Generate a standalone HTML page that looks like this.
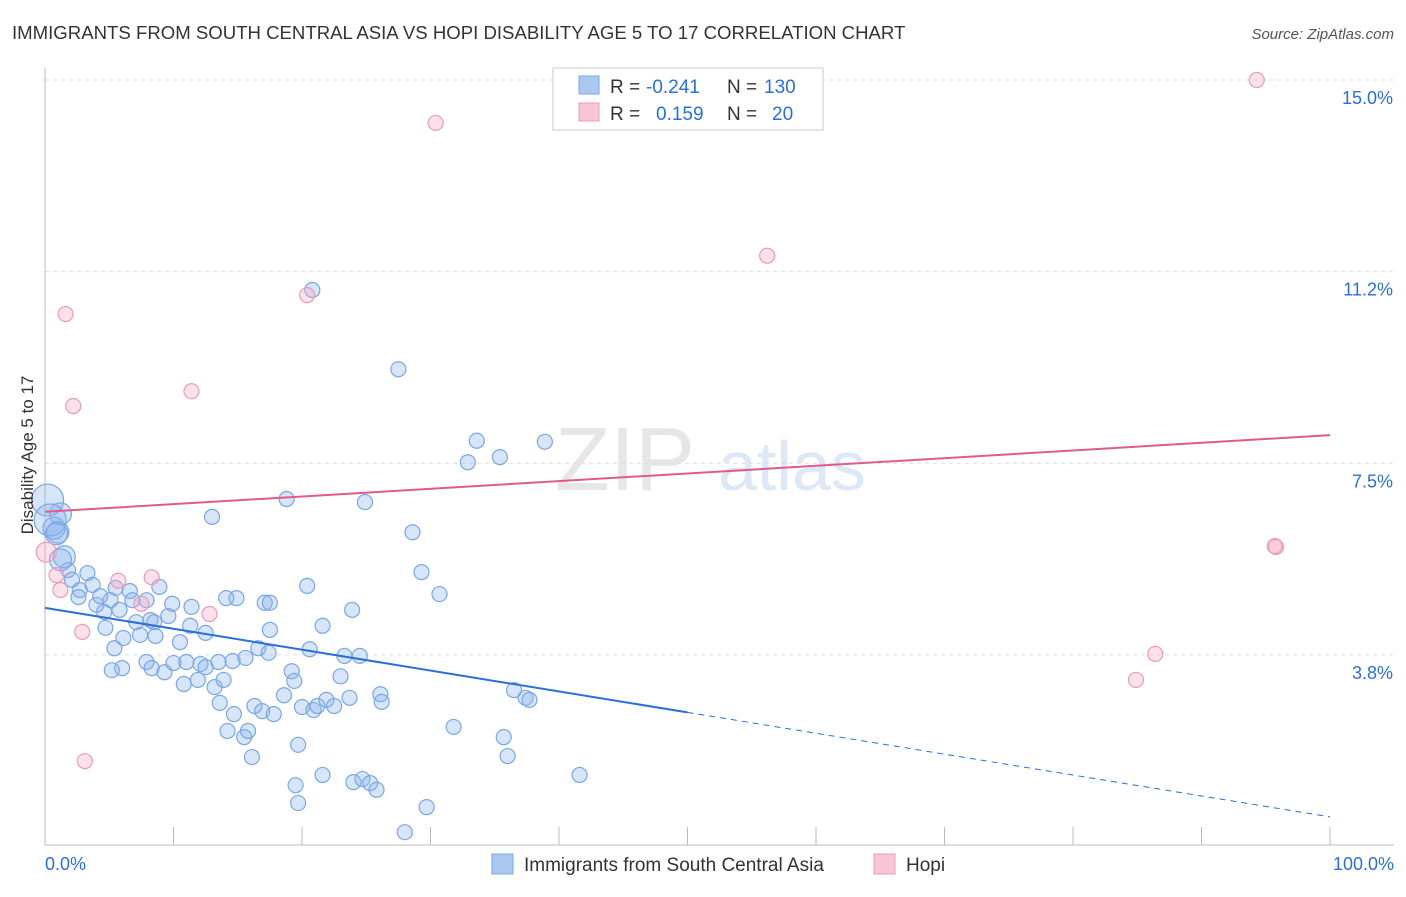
<!DOCTYPE html>
<html><head><meta charset="utf-8">
<style>
body{margin:0;background:#fff;font-family:"Liberation Sans",sans-serif;}
svg text{font-family:"Liberation Sans",sans-serif;}
</style></head>
<body>
<svg id="chart" width="1406" height="892" xmlns="http://www.w3.org/2000/svg">
<text x="12" y="39" font-size="18.6" fill="#333">IMMIGRANTS FROM SOUTH CENTRAL ASIA VS HOPI DISABILITY AGE 5 TO 17 CORRELATION CHART</text>
<text x="1394" y="39" font-size="15" fill="#555" text-anchor="end" font-style="italic">Source: ZipAtlas.com</text>
<text x="555" y="490" font-size="90" fill="#e6e6e6" font-family="Liberation Serif">ZIP</text>
<text x="718" y="490" font-size="70" fill="#dce8f5">atlas</text>
<g id="grid"></g>
<g id="axes"></g>
<g id="marks"></g>
<text transform="translate(33,455) rotate(-90)" font-size="17" fill="#333" text-anchor="middle">Disability Age 5 to 17</text>
<g>
<rect x="553" y="68" width="270" height="62" fill="#fff" stroke="#ccc"/>
<rect x="579" y="76" width="20" height="18" fill="#aac8f0" stroke="#7aa6e6"/>
<text x="610" y="93" font-size="19" fill="#333">R =</text>
<text x="646" y="93" font-size="19" fill="#2a6fd6">-0.241</text>
<text x="727" y="93" font-size="19" fill="#333">N =</text>
<text x="764" y="93" font-size="19" fill="#2a6fd6">130</text>
<rect x="579" y="103" width="20" height="18" fill="#f7c5d5" stroke="#e99bb7"/>
<text x="610" y="120" font-size="19" fill="#333">R =</text>
<text x="656" y="120" font-size="19" fill="#2a6fd6">0.159</text>
<text x="727" y="120" font-size="19" fill="#333">N =</text>
<text x="772" y="120" font-size="19" fill="#2a6fd6">20</text>
</g>
<g>
<rect x="492" y="854" width="21" height="20" fill="#aac8f0" stroke="#7aa6e6"/>
<text x="524" y="871" font-size="19" fill="#333">Immigrants from South Central Asia</text>
<rect x="874" y="854" width="21" height="20" fill="#f7c5d5" stroke="#e99bb7"/>
<text x="906" y="871" font-size="19" fill="#333">Hopi</text>
</g>
</svg>
<script>
const blueX=[20.8,27.5,33.6,38.9,32.9,35.4,18.8,24.9,13.0,28.6,29.3,20.4,30.7,23.9,14.9,14.1,17.1,17.5,9.9,11.4,8.9,6.6,5.5,3.3,1.8,2.1,2.7,3.7,5.1,4.0,4.6,5.8,7.1,8.2,8.5,9.6,11.3,12.5,10.5,8.6,7.4,6.1,4.7,5.4,6.0,5.2,7.9,8.3,9.3,10.0,11.0,12.1,12.5,13.5,14.6,15.6,16.6,17.4,17.5,20.6,21.6,23.3,24.5,19.2,19.4,23.0,10.8,11.9,13.2,13.9,13.6,14.7,16.3,16.9,17.8,18.6,20.0,20.9,21.2,21.9,22.5,23.7,26.1,26.2,31.8,36.5,37.4,37.7,35.7,36.0,41.6,19.7,14.2,15.5,15.8,16.1,21.6,19.5,19.7,24.0,24.7,25.3,25.8,29.7,28.0,1.2,1.0,0.7,1.5,1.2,0.2,0.4,2.6,4.3,6.8,7.9,0.9];
const blueY=[10.89,9.34,7.94,7.92,7.52,7.62,6.80,6.74,6.45,6.15,5.37,5.10,4.94,4.63,4.86,4.86,4.77,4.77,4.75,4.69,5.08,5.00,5.06,5.35,5.41,5.22,5.02,5.12,4.82,4.73,4.59,4.63,4.39,4.43,4.39,4.51,4.32,4.18,4.00,4.12,4.14,4.08,4.28,3.88,3.49,3.45,3.61,3.49,3.41,3.59,3.61,3.57,3.51,3.61,3.63,3.69,3.88,3.79,4.24,3.86,4.32,3.73,3.73,3.43,3.24,3.33,3.18,3.26,3.12,3.26,2.81,2.59,2.75,2.65,2.59,2.96,2.73,2.67,2.75,2.87,2.75,2.91,2.98,2.83,2.34,3.06,2.91,2.87,2.14,1.77,1.40,1.99,2.26,2.14,2.26,1.75,1.40,1.20,0.85,1.26,1.32,1.24,1.11,0.77,0.28,6.51,6.15,6.23,5.67,5.61,6.78,6.39,4.88,4.90,4.82,4.82,6.12];
const pinkX=[94.3,30.4,56.2,20.4,1.6,11.4,2.2,95.8,95.7,86.4,84.9,3.1,2.9,12.8,7.5,5.7,8.3,0.9,1.2,0.1];
const pinkY=[15.0,14.16,11.56,10.79,10.42,8.91,8.62,5.86,5.88,3.77,3.26,1.67,4.20,4.55,4.75,5.20,5.27,5.31,5.02,5.76];
const blueTrend=[4.67,0.58]; // values at x=0 and x=100
const pinkTrend=[6.55,8.05];
const yTicks=[15.0,11.25,7.5,3.75];
const yTickLabels=["15.0%","11.2%","7.5%","3.8%"];
const xTicks=[0,10,20,30,40,50,60,70,80,90,100];

const NS="http://www.w3.org/2000/svg";
const X=v=>45+v*12.85;
const Y=v=>80+(15-v)*51.1;
function mk(tag,attrs,parent){const e=document.createElementNS(NS,tag);for(const k in attrs)e.setAttribute(k,attrs[k]);parent.appendChild(e);return e;}
const grid=document.getElementById('grid'),axes=document.getElementById('axes'),marks=document.getElementById('marks');
yTicks.forEach((t,i)=>{
  const l=mk('line',{x1:45,x2:1394,y1:Y(t),y2:Y(t),stroke:'#ddd','stroke-dasharray':'4,4'},grid);
  
  
  const tx=mk('text',{x:1393,y:Y(t)+24,'font-size':18,fill:'#2a6fd6','text-anchor':'end'},axes);
  tx.textContent=yTickLabels[i];
  
  
});
const ax=mk('line',{x1:45,x2:1394,y1:845,y2:845,stroke:'#bbb'},axes);


const ay=mk('line',{x1:45,x2:45,y1:68,y2:845,stroke:'#bbb'},axes);


xTicks.forEach(t=>{
  const l=mk('line',{x1:X(t),x2:X(t),y1:827,y2:845,stroke:'#bbb'},axes);
  
  
});
[['0.0%',45,'start'],['100.0%',1394,'end']].forEach(a=>{
  const tx=mk('text',{x:a[1],y:870,'font-size':18,fill:'#2a6fd6','text-anchor':a[2]},axes);
  tx.textContent=a[0];
  
  
});
blueX.forEach((x,i)=>{
  let r=7.5; if(x<1.6&&blueY[i]>5.5) r=11; if(x<0.5) r=16;
  const c=mk('circle',{cx:X(x),cy:Y(blueY[i]),r:r,fill:'rgba(140,180,235,0.35)',stroke:'#7aa6e6','stroke-width':1.2},marks);
  
  
});
pinkX.forEach((x,i)=>{
  let r=7.5; if(x<0.5) r=10;
  const c=mk('circle',{cx:X(x),cy:Y(pinkY[i]),r:r,fill:'rgba(245,170,195,0.35)',stroke:'#e99bb7','stroke-width':1.2},marks);
  
  
});
const bAt=x=>blueTrend[0]+(blueTrend[1]-blueTrend[0])*x/100;
const bl=mk('line',{x1:X(0),y1:Y(bAt(0)),x2:X(50),y2:Y(bAt(50)),stroke:'#2a6fd6','stroke-width':2},marks);


const bd=mk('line',{x1:X(50),y1:Y(bAt(50)),x2:X(100),y2:Y(bAt(100)),stroke:'#2a6fd6','stroke-width':1,'stroke-dasharray':'6,5'},marks);


const pl=mk('line',{x1:X(0),y1:Y(pinkTrend[0]),x2:X(100),y2:Y(pinkTrend[1]),stroke:'#e05a8a','stroke-width':2},marks);


</script>
</body></html>
